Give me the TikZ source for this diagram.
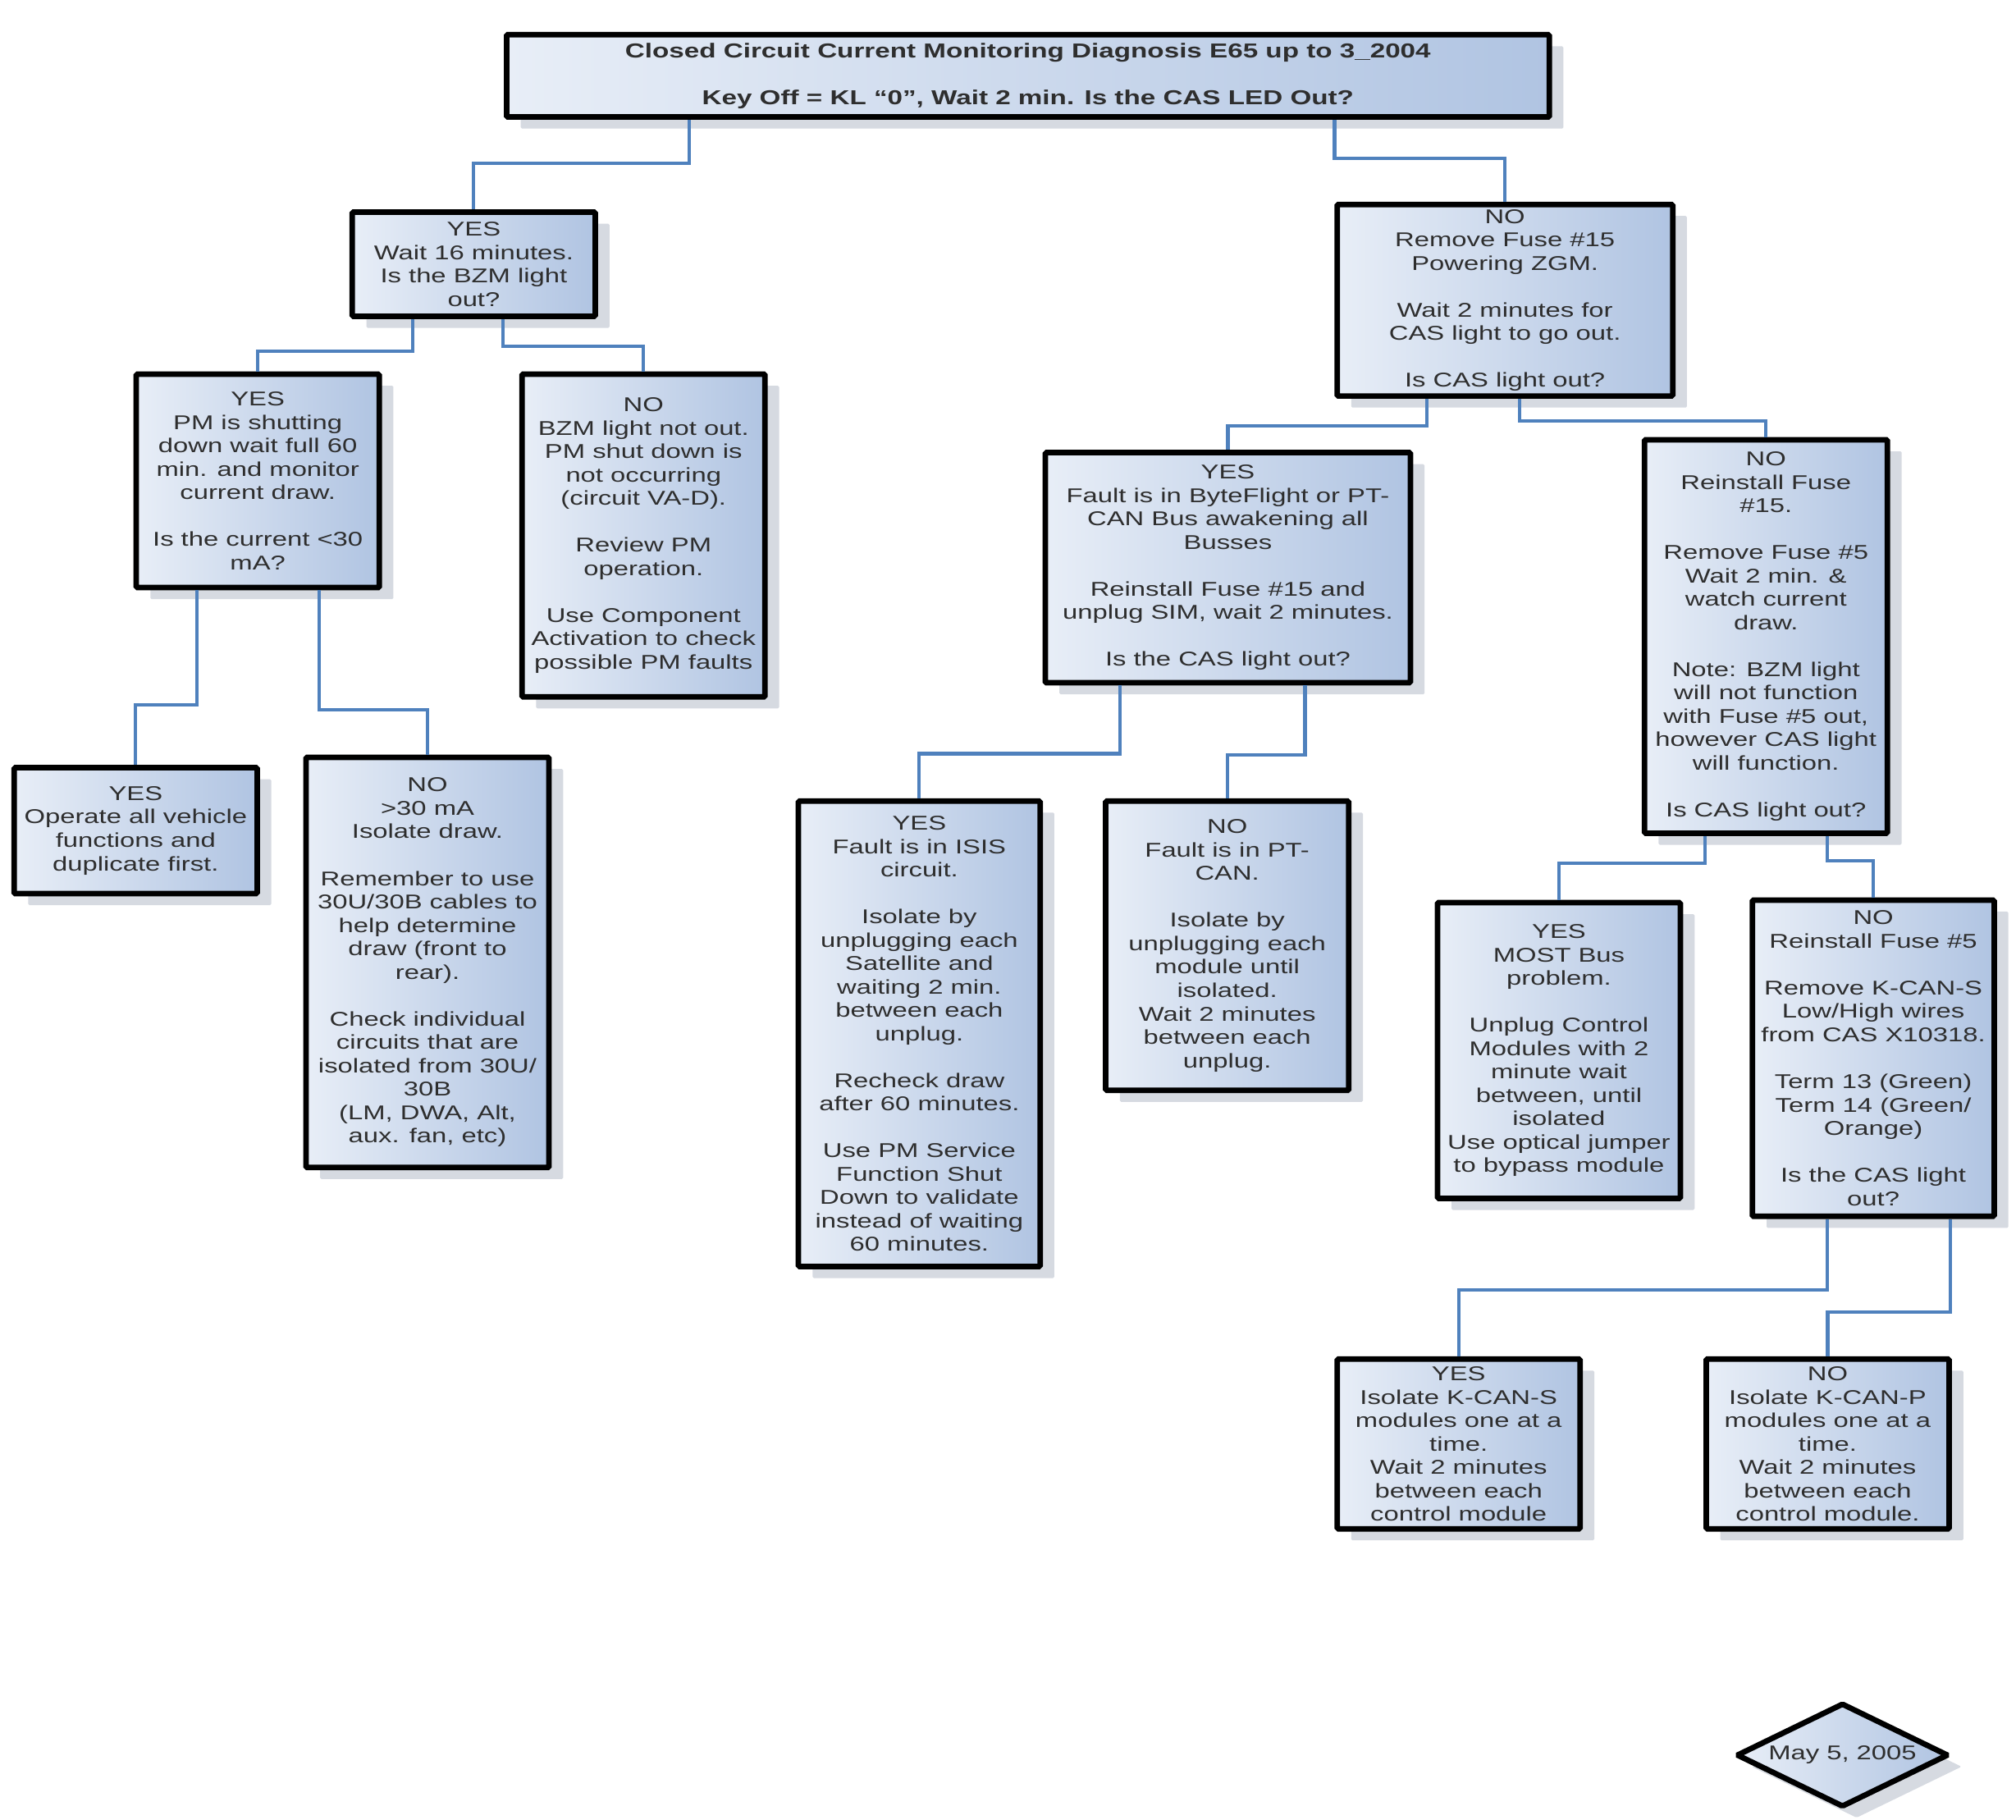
\documentclass[tikz,border=0pt]{standalone}
\usepackage{fontspec}
\setmainfont[FakeStretch=1.35]{Liberation Sans}
\usepackage{tikz}
\usetikzlibrary{
	shapes.geometric,
	shadows
}
\definecolor{boxlight}{RGB}{232,238,247}
\definecolor{boxdark}{RGB}{176,196,226}
\definecolor{linkblue}{RGB}{79,129,189}
\definecolor{shadowgray}{RGB}{214,218,225}

\tikzset{
	box/.style={draw=black, line width=4.3pt, rounded corners=1pt,
		left color=boxlight, right color=boxdark,
		drop shadow={shadow xshift=11pt, shadow yshift=-9pt, fill=shadowgray, opacity=1},
		align=center, inner sep=0pt, text=black!82,
		font=\fontsize{15.5}{18.2}\selectfont},
	link/.style={draw=linkblue, line width=2.6pt},
	elbow/.style={to path={-- ++(0,-#1) -| (\tikztotarget)}}
}

\begin{document}
\begin{tikzpicture}[x=1pt,y=1pt]
		\fill[white] (0,0) rectangle (1568,-1415);
		\useasboundingbox (0,0) rectangle (1568,-1415);
		\draw
			node[box,minimum width=811,minimum height=64,font=\fontsize{15.7}{18.2}\selectfont\bfseries] (title) at (799.5,-59)
				{Closed Circuit Current Monitoring Diagnosis E65 up to 3\_2004\\~\\Key Off = KL “0”, Wait 2 min. Is the CAS LED Out?}
			node[box,minimum width=189,minimum height=81] (yes1) at (368.5,-205.5)
				{YES\\Wait 16 minutes.\\Is the BZM light\\out?}
			node[box,minimum width=261,minimum height=149] (no1) at (1170.5,-233.5)
				{NO\\Remove Fuse \#15\\Powering ZGM.\\~\\Wait 2 minutes for\\CAS light to go out.\\~\\Is CAS light out?}
			node[box,minimum width=189,minimum height=166] (yes2) at (200.5,-374)
				{YES\\PM is shutting\\down wait full 60\\min. and monitor\\current draw.\\~\\Is the current <30\\mA?}
			node[box,minimum width=189,minimum height=251] (no2) at (500.5,-416.5)
				{NO\\BZM light not out.\\PM shut down is\\not occurring\\(circuit VA-D).\\~\\Review PM\\operation.\\~\\Use Component\\Activation to check\\possible PM faults}
			node[box,minimum width=189,minimum height=98] (yes3) at (105.5,-646)
				{YES\\Operate all vehicle\\functions and\\duplicate first.}
			node[box,minimum width=189,minimum height=319] (no3) at (332.5,-748.5)
				{NO\\>30 mA\\Isolate draw.\\~\\Remember to use\\30U/30B cables to\\help determine\\draw (front to\\rear).\\~\\Check individual\\circuits that are\\isolated from 30U/\\30B\\(LM, DWA, Alt,\\aux. fan, etc)}
			node[box,minimum width=284,minimum height=179] (yes4) at (955,-441.5)
				{YES\\Fault is in ByteFlight or PT-\\CAN Bus awakening all\\Busses\\~\\Reinstall Fuse \#15 and\\unplug SIM, wait 2 minutes.\\~\\Is the CAS light out?}
			node[box,minimum width=189,minimum height=306] (no4) at (1373.5,-495)
				{NO\\Reinstall Fuse\\\#15.\\~\\Remove Fuse \#5\\Wait 2 min. \&\\watch current\\draw.\\~\\Note: BZM light\\will not function\\with Fuse \#5 out,\\however CAS light\\will function.\\~\\Is CAS light out?}
			node[box,minimum width=188,minimum height=362] (yes5) at (715,-804)
				{YES\\Fault is in ISIS\\circuit.\\~\\Isolate by\\unplugging each\\Satellite and\\waiting 2 min.\\between each\\unplug.\\~\\Recheck draw\\after 60 minutes.\\~\\Use PM Service\\Function Shut\\Down to validate\\instead of waiting\\60 minutes.}
			node[box,minimum width=189,minimum height=225] (no5) at (954.5,-735.5)
				{NO\\Fault is in PT-\\CAN.\\~\\Isolate by\\unplugging each\\module until\\isolated.\\Wait 2 minutes\\between each\\unplug.}
			node[box,minimum width=189,minimum height=230] (yes6) at (1212.5,-817)
				{YES\\MOST Bus\\problem.\\~\\Unplug Control\\Modules with 2\\minute wait\\between, until\\isolated\\Use optical jumper\\to bypass module}
			node[box,minimum width=188,minimum height=246] (no6) at (1457,-823)
				{NO\\Reinstall Fuse \#5\\~\\Remove K-CAN-S\\Low/High wires\\from CAS X10318.\\~\\Term 13 (Green)\\Term 14 (Green/\\Orange)\\~\\Is the CAS light\\out?}
			node[box,minimum width=189,minimum height=132] (yes7) at (1134.5,-1123)
				{YES\\Isolate K-CAN-S\\modules one at a\\time.\\Wait 2 minutes\\between each\\control module}
			node[box,minimum width=189,minimum height=132] (no7) at (1421.5,-1123)
				{NO\\Isolate K-CAN-P\\modules one at a\\time.\\Wait 2 minutes\\between each\\control module.}
			node[box,diamond,aspect=2,minimum width=165,minimum height=81] (date) at (1433,-1365)
				{May 5, 2005}

			([xshift=-263.5]title.south) edge[link,elbow=34] (yes1)
			([xshift=238.5]title.south)  edge[link,elbow=30] (no1)
			([xshift=-47.5]yes1.south)   edge[link,elbow=25] (yes2)
			([xshift=22.5]yes1.south)    edge[link,elbow=21] (no2)
			([xshift=-47.5]yes2.south)   edge[link,elbow=89] (yes3)
			([xshift=47.5]yes2.south)    edge[link,elbow=93] (no3)
			([xshift=-60.5]no1.south)    edge[link,elbow=21] (yes4)
			([xshift=11.5]no1.south)     edge[link,elbow=17] (no4)
			([xshift=-84]yes4.south)     edge[link,elbow=53] (yes5)
			([xshift=60]yes4.south)      edge[link,elbow=54] (no5)
			([xshift=-47.5]no4.south)    edge[link,elbow=21] (yes6)
			([xshift=47.5]no4.south)     edge[link,elbow=19] (no6)
			([xshift=-36]no6.south)      edge[link,elbow=55] (yes7)
			([xshift=60]no6.south)       edge[link,elbow=72] (no7)
		;
	\end{tikzpicture}
\end{document}
